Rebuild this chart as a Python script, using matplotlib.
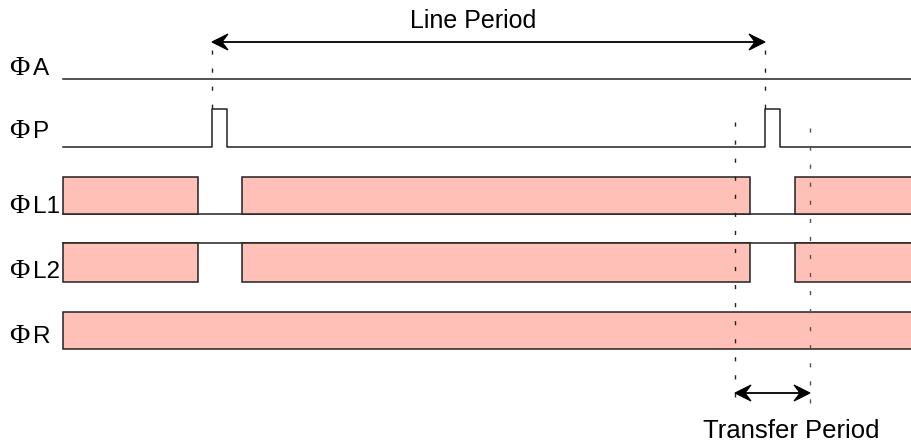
import matplotlib
matplotlib.use("Agg")
import matplotlib.pyplot as plt
from matplotlib.patches import Rectangle, Polygon

# signal names (drawn as a serif Phi + sans letters)
names = ["A", "P", "L1", "L2", "R"]
label_base = [75, 138, 213, 278, 343]

# timing (horizontal units = pixels of the 911 wide picture)
t_start, t_end = 63, 930
p_pulses = [(212, 227), (765, 780)]          # phi P high
l_high = [(63, 198), (242, 750), (795, 930)]  # phi L1 / L2 high
r_high = [(63, 930)]                          # phi R high
line_period = (212, 765)
transfer_period = (735, 810)

# rows: (top, bottom)
row_A = 79
row_P = (109, 147)
row_L1 = (177, 214)
row_L2 = (243, 282)
row_R = (312, 349)

fill = "#ffc0b7"
ink = "#222222"

fig = plt.figure(figsize=(9.11, 4.45), dpi=100)
ax = fig.add_axes([0, 0, 1, 1])
ax.set_xlim(0, 911)
ax.set_ylim(445, 0)
ax.axis("off")

# phi A
ax.plot([t_start, t_end], [row_A, row_A], color=ink, lw=1.1)

# phi P step waveform
xs, ys = [t_start], [row_P[1]]
for a, b in p_pulses:
    xs += [a, a, b, b]
    ys += [row_P[1], row_P[0], row_P[0], row_P[1]]
xs.append(t_end)
ys.append(row_P[1])
ax.plot(xs, ys, color=ink, lw=1.1)

# phi L1 / L2 / R as filled boxes
def boxes(row, spans, base):
    top, bot = row
    if base is not None:
        ax.plot([t_start, t_end], [base, base], color=ink, lw=1.1, zorder=1)
    for a, b in spans:
        ax.add_patch(Rectangle((a, top), b - a, bot - top, facecolor=fill,
                               edgecolor=ink, lw=1.1, zorder=2))

boxes(row_L1, l_high, row_L1[1])
boxes(row_L2, l_high, row_L2[0])
boxes(row_R, r_high, None)

# dashed guides
dash = (0, (3, 10))
ax.plot([line_period[0]] * 2, [50, row_P[0]], color=ink, lw=1.0, ls=dash)
ax.plot([line_period[1]] * 2, [50, row_P[0]], color=ink, lw=1.0, ls=dash)
ax.plot([transfer_period[0]] * 2, [122, 402], color=ink, lw=1.0, ls=dash)
ax.plot([transfer_period[1]] * 2, [128, 406], color="#555555", lw=1.0, ls=dash)

# double arrows with barbed heads
def head(x, y, d):
    L, W, N = 16, 8, 10
    ax.add_patch(Polygon([(x, y), (x - d * L, y - W), (x - d * N, y), (x - d * L, y + W)],
                         closed=True, facecolor="black", edgecolor="black", lw=0.8, zorder=3))

for (a, b), y in [(line_period, 42), (transfer_period, 393)]:
    ax.plot([a + 4, b - 4], [y, y], color="black", lw=1.3)
    head(a, y, -1)
    head(b, y, 1)

ax.text(sum(line_period) / 2 - 15, 28, "Line Period", family="Liberation Sans",
        fontsize=18, ha="center", va="baseline")
ax.text(sum(transfer_period) / 2 + 19, 438, "Transfer Period", family="Liberation Sans",
        fontsize=18.5, ha="center", va="baseline")

# labels
for n, yb in zip(names, label_base):
    ax.text(9, yb, "\u03a6", family="Liberation Serif", fontsize=20, va="baseline")
    ax.text(33, yb, n, family="Liberation Sans", fontsize=17.5, va="baseline")

fig.savefig("out.png", dpi=100)
